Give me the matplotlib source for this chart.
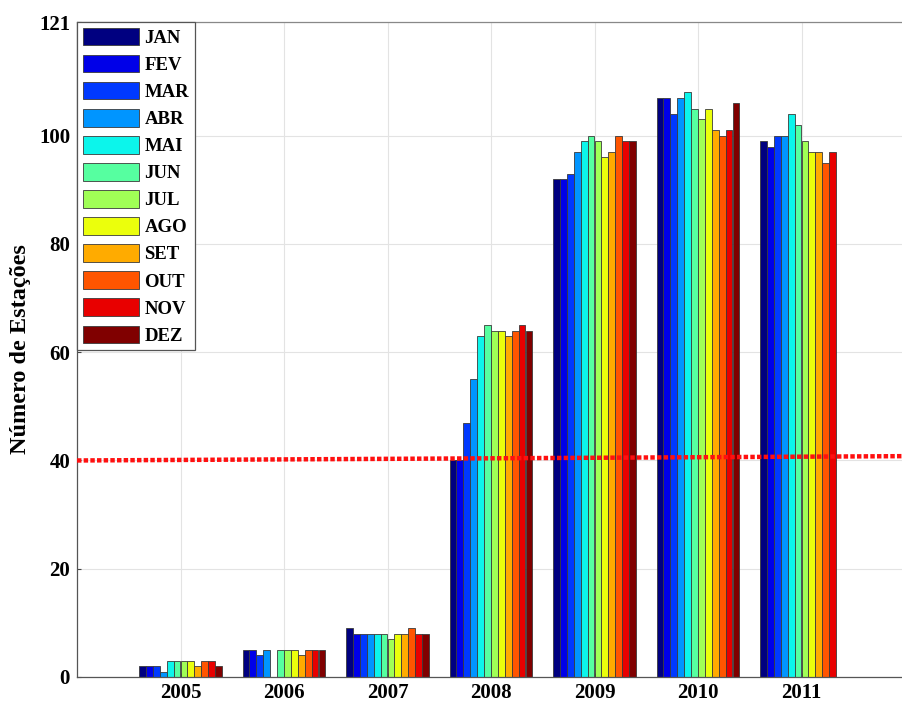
import numpy as np
import matplotlib
matplotlib.use('Agg')
import matplotlib.pyplot as plt

anos = [2005, 2006, 2007, 2008, 2009, 2010, 2011]
meses = ['JAN', 'FEV', 'MAR', 'ABR', 'MAI', 'JUN',
         'JUL', 'AGO', 'SET', 'OUT', 'NOV', 'DEZ']

# numero de estacoes por mes (linhas = meses, colunas = anos)
jan = [2, 5, 9, 40, 92, 107, 99]
fev = [2, 5, 8, 40, 92, 107, 98]
mar = [2, 4, 8, 47, 93, 104, 100]
abr = [1, 5, 8, 55, 97, 107, 100]
mai = [3, 0, 8, 63, 99, 108, 104]
jun = [3, 5, 8, 65, 100, 105, 102]
jul = [3, 5, 7, 64, 99, 103, 99]
ago = [3, 5, 8, 64, 96, 105, 97]
set_ = [2, 4, 8, 63, 97, 101, 97]
out = [3, 5, 9, 64, 100, 100, 95]
nov = [3, 5, 8, 65, 99, 101, 97]
dez = [2, 5, 8, 64, 99, 106, np.nan]
valores = [jan, fev, mar, abr, mai, jun, jul, ago, set_, out, nov, dez]

limiar_x = [2004, 2012]
limiar_y = [40.0, 40.8]

yticks = [0, 20, 40, 60, 80, 100, 121]

plt.rcParams['font.family'] = ['Liberation Serif', 'DejaVu Serif']
plt.rcParams['font.weight'] = 'bold'

fig = plt.figure(figsize=(9.03, 7.04), dpi=100)
ax = fig.add_axes([77 / 903, 1 - 677 / 704, 8 * 103.5 / 903, 655 / 704])

cores = plt.cm.jet(np.linspace(0, 1, len(meses)))
n = len(meses)
largura = 0.8 / n
x = np.array(anos, dtype=float)
for i, (mes, v) in enumerate(zip(meses, valores)):
    pos = x - 0.4 + largura * (i + 0.5)
    ax.bar(pos, v, width=largura, color=cores[i], edgecolor='#3a3a3a',
           linewidth=0.6, label=mes, zorder=2)

ax.plot(limiar_x, limiar_y, color='#ff1010', linewidth=3.2,
        linestyle=(0, (1.0, 0.5)), zorder=3)

ax.set_xlim(2004, 2012)
ax.set_ylim(0, 121)
ax.set_xticks(anos)
ax.set_yticks(yticks)
ax.tick_params(labelsize=15, direction='in', length=3, colors='#444444',
               labelcolor='black', pad=5)
ax.tick_params(axis='x', pad=4)
for lbl in ax.get_xticklabels() + ax.get_yticklabels():
    lbl.set_fontweight('bold')
ax.grid(True, color='#e3e3e3', linewidth=0.8, zorder=0)
ax.set_axisbelow(True)
for s in ax.spines.values():
    s.set_color('#555555')
    s.set_linewidth(0.9)
ax.spines['right'].set_visible(False)
ax.spines['top'].set_color('#888888')

ax.set_ylabel('Número de Estações', fontsize=17.5, fontweight='bold', labelpad=6)

leg = ax.legend(loc='upper left', bbox_to_anchor=(0, 1), borderaxespad=0,
                fontsize=13.5, handlelength=3.0, handleheight=1.07,
                labelspacing=0.42, handletextpad=0.3, borderpad=0.3,
                fancybox=False, framealpha=1)
leg.get_frame().set_edgecolor('#555555')
leg.get_frame().set_linewidth(0.9)
for t in leg.get_texts():
    t.set_fontweight('bold')

fig.savefig('out.png', dpi=100)
